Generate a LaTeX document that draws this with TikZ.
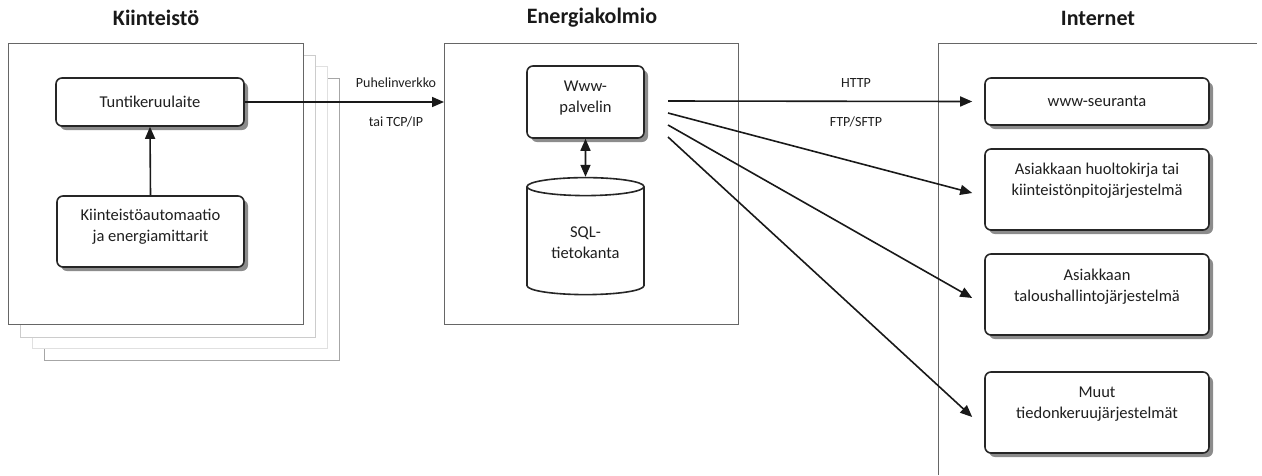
\documentclass[tikz,border=0pt]{standalone}
\usepackage{fontspec}
\setmainfont{Carlito}
\usepackage{tikz}
\usetikzlibrary{positioning}
\usetikzlibrary{shapes.geometric,shadows,arrows.meta}

\begin{document}
\begin{tikzpicture}[x=1pt,y=-1pt,
		title/.style={font=\fontsize{22}{26}\selectfont\bfseries, text=black!90},
		lbl/.style={font=\fontsize{14}{17}\selectfont, text=black!88},
		txt/.style={font=\fontsize{16.5}{21}\selectfont, align=center, text=black!88},
		box/.style={draw=black!85, line width=1.6pt, rounded corners=6pt, fill=white,
			drop shadow={shadow xshift=4pt, shadow yshift=-4pt, fill=black!45, opacity=1}},
		frame/.style={draw=black!60, line width=1pt, fill=white},
		conn/.style={line width=1.6pt, draw=black!90, -{Triangle[length=12pt,width=10pt]}}]
				\useasboundingbox (0,0) rectangle (1262,475);
				
				%Titles
				\node[title] (kiinttitle) 	at (156,18) 	{Kiinteistö};
				\node[title] (energiatitle) at (592,18) 	{Energiakolmio};
				\node[title] (nettitle) 	at (1098,18) 	{Internet};
				
				%Frames
				\foreach \k/\c in {3/black!35, 2/black!12, 1/black!20}
					\node[frame, draw=\c, minimum width=295, minimum height=282, anchor=north west] (kiint\k) at ({8+12*\k},{43+11.5*\k}) {};
				\node[frame, minimum width=295, minimum height=281, anchor=north west] (kiint) 	at (8,43) 	{};
				\node[frame, minimum width=294, minimum height=281, anchor=north west] (energia) at (444,43) {};
				\draw[black!60, line width=1pt] (938,475) |- (1257,43);
				
				%Nodes
				\node[box, txt, minimum width=188, minimum height=48] (tunti) at (150,102) {Tuntikeruulaite};
				\node[box, minimum width=187, minimum height=71, label={[txt, yshift=4.5pt]center:{Kiinteistöautomaatio\\ja energiamittarit}}] (auto) at (150.5,231.5) {};
				\node[box, minimum width=117, minimum height=72, label={[txt, yshift=4pt]center:{Www-\\palvelin}}] (www) at (585.5,102) {};
				\node[cylinder, shape border rotate=90, aspect=0.24, draw=black!85, line width=1.6pt, fill=white, txt,
					minimum width=117, minimum height=117] (db) at (585.5,242.5) {SQL-\\tietokanta};
				
				\node[box, txt, minimum width=224, minimum height=47] (seuranta) at (1097,101.5) {www-seuranta};
				\node[box, minimum width=224, minimum height=81, label={[txt, yshift=8.5pt]center:{Asiakkaan huoltokirja tai\\kiinteistönpitojärjestelmä}}] (huolto) at (1097,189.5) {};
				\node[box, minimum width=224, minimum height=81, label={[txt, yshift=7.5pt]center:{Asiakkaan\\taloushallintojärjestelmä}}] (talous) at (1097,294.5) {};
				\node[box, minimum width=224, minimum height=81, label={[txt, yshift=8.5pt]center:{Muut\\tiedonkeruujärjestelmät}}] (muut) at (1097,412.5) {};
				
				\coordinate (out1) at (668,101);
				\coordinate (out2) at (668,113);
				\coordinate (out3) at (668,125);
				\coordinate (out4) at (668,137);
				\coordinate (in1) at ([xshift=-12pt]seuranta.west);
				\coordinate (in2) at ([xshift=-12pt,yshift=-3.5pt]huolto.west);
				\coordinate (in3) at ([xshift=-12pt,yshift=-3.5pt]talous.west);
				\coordinate (in4) at ([xshift=-12pt,yshift=-4.5pt]muut.west);
				
				%Labels
				\node[lbl] (puhelin) at (396,83) 	{Puhelinverkko};
				\node[lbl] (tcpip) 	at (396,122) 	{tai TCP/IP};
				\node[lbl] (http) 	at (856,83) 	{HTTP};
				\node[lbl] (ftp) 	at (856,122) 	{FTP/SFTP};
				
				%Lines
				\draw[conn] (auto.north) -- (tunti.south);
				\draw[conn] (tunti.east) -- (tunti.east -| energia.west);
				\draw[conn, {Triangle[length=12pt,width=10pt]}-{Triangle[length=12pt,width=10pt]}] (www.south) -- (db.north);
				\foreach \i in {1,...,4}
					\draw[conn] (out\i) -- (in\i);

		\end{tikzpicture}
\end{document}
